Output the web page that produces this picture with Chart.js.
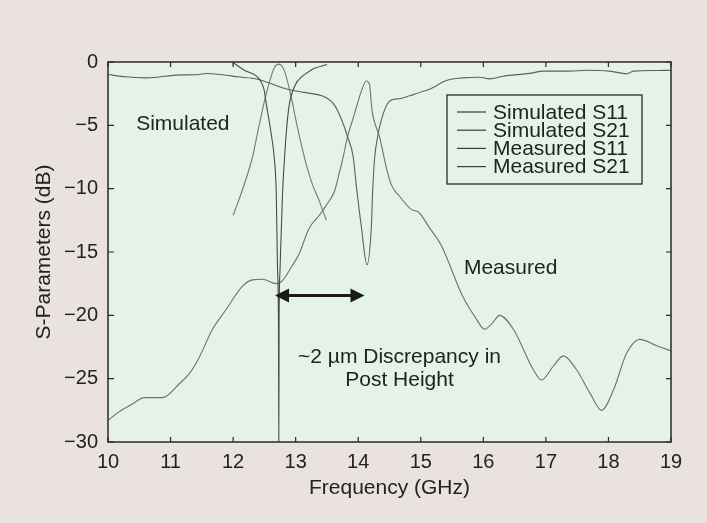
<!DOCTYPE html>
<html>
<head>
<meta charset="utf-8">
<script src="https://cdn.jsdelivr.net/npm/chart.js@4.4.0/dist/chart.umd.min.js"></script>
<style>
  html, body { margin: 0; padding: 0; background: #e9e2de; }
</style>
</head>
<body>
<canvas id="myChart" width="707" height="523"></canvas>
<script>
// frequency axis (GHz) and y ticks (dB)
const xTicks = [10, 11, 12, 13, 14, 15, 16, 17, 18, 19];
const yTicks = [0, -5, -10, -15, -20, -25, -30];

// simulated S11
const simS11Freq = [12.0, 12.18, 12.37, 12.45, 12.5, 12.53, 12.6, 12.66, 12.69, 12.71, 12.725, 12.73, 12.735, 12.75, 12.79, 12.82, 12.86, 12.9, 13.0, 13.1, 13.19, 13.3, 13.5];
const simS11 = [-0.05, -0.65, -1.1, -1.6, -2.3, -3.3, -5.4, -7.7, -10.4, -16.4, -20.5, -30, -20.5, -16.4, -10.4, -7.7, -5.0, -3.3, -1.75, -1.15, -0.83, -0.5, -0.2];

// simulated S21
const simS21Freq = [12.0, 12.12, 12.31, 12.42, 12.53, 12.66, 12.73, 12.82, 12.93, 13.03, 13.17, 13.27, 13.38, 13.49];
const simS21 = [-12.1, -10.5, -7.5, -4.9, -2.5, -0.44, -0.17, -0.7, -2.8, -5.2, -8.1, -9.7, -11.0, -12.5];

// measured S11
const measS11Freq = [10.0, 10.28, 10.6, 10.79, 11.08, 11.46, 11.56, 11.88, 12.07, 12.39, 12.87, 13.14, 13.46, 13.62, 13.73, 13.83, 13.92, 13.97, 14.05, 14.14, 14.21, 14.23, 14.26, 14.31, 14.42, 14.53, 14.66, 14.82, 14.98, 15.14, 15.41, 15.67, 15.94, 16.1, 16.31, 16.74, 16.96, 17.38, 17.65, 18.02, 18.29, 18.4, 18.77, 19.0];
const measS11 = [-0.99, -1.17, -1.25, -1.2, -1.04, -0.99, -0.91, -1.04, -1.17, -1.36, -2.15, -2.4, -2.75, -3.4, -4.5, -5.9, -7.5, -9.8, -13.0, -16.0, -13.0, -10.3, -7.7, -5.9, -3.8, -3.0, -2.9, -2.67, -2.4, -2.15, -1.46, -1.25, -1.2, -1.33, -1.12, -0.9, -0.72, -0.72, -0.65, -0.72, -0.93, -0.72, -0.67, -0.65];

// measured S21
const measS21Freq = [10.0, 10.18, 10.39, 10.58, 10.87, 11.14, 11.3, 11.46, 11.67, 11.88, 12.15, 12.31, 12.47, 12.69, 12.77, 12.93, 13.06, 13.19, 13.25, 13.38, 13.49, 13.62, 13.7, 13.75, 13.83, 13.94, 14.05, 14.13, 14.18, 14.22, 14.34, 14.45, 14.53, 14.66, 14.87, 14.95, 15.14, 15.33, 15.67, 15.89, 16.02, 16.13, 16.26, 16.48, 16.8, 16.93, 17.12, 17.28, 17.49, 17.7, 17.89, 18.08, 18.29, 18.5, 18.77, 19.0];
const measS21 = [-28.3, -27.6, -27.0, -26.5, -26.5, -25.4, -24.6, -23.3, -21.1, -19.6, -17.7, -17.2, -17.15, -17.5, -17.35, -16.2, -15.1, -13.4, -12.85, -12.1, -11.3, -10.2, -8.7, -7.7, -5.9, -4.1, -2.3, -1.5, -1.75, -3.8, -5.9, -8.35, -9.7, -10.6, -11.7, -11.8, -13.1, -14.5, -18.5, -20.3, -21.1, -20.7, -20.0, -21.1, -24.3, -25.1, -24.0, -23.2, -24.3, -26.1, -27.5, -25.9, -23.0, -21.9, -22.4, -22.8];

const toPts = (xs, ys) => xs.map((x, i) => ({ x: x, y: ys[i] }));

Chart.defaults.font.family = '"Liberation Sans", Arial, Helvetica, sans-serif';
Chart.defaults.color = '#222';

const canvas = document.querySelector('#myChart');

// 배경: 바깥쪽 + 플롯 영역
const bgPlugin = {
  id: 'bg',
  beforeDraw(chart) {
    const { ctx, chartArea: a } = chart;
    ctx.save();
    ctx.fillStyle = '#e9e2de';
    ctx.fillRect(0, 0, chart.width, chart.height);
    ctx.fillStyle = '#e4f2e7';
    ctx.fillRect(a.left, a.top, a.right - a.left, a.bottom - a.top);
    ctx.restore();
  }
};

// 테두리 + 안쪽 눈금
const framePlugin = {
  id: 'frame',
  afterDatasetsDraw(chart) {
    const { ctx, chartArea: a, scales } = chart;
    ctx.save();
    ctx.strokeStyle = '#2a2a2a';
    ctx.lineWidth = 1.5;
    ctx.strokeRect(a.left, a.top, a.right - a.left, a.bottom - a.top);
    ctx.lineWidth = 1.2;
    ctx.beginPath();
    scales.x.ticks.forEach(t => {
      const px = scales.x.getPixelForValue(t.value);
      ctx.moveTo(px, a.top); ctx.lineTo(px, a.top + 5);
      ctx.moveTo(px, a.bottom); ctx.lineTo(px, a.bottom - 5);
    });
    scales.y.ticks.forEach(t => {
      const py = scales.y.getPixelForValue(t.value);
      ctx.moveTo(a.left, py); ctx.lineTo(a.left + 6, py);
      ctx.moveTo(a.right, py); ctx.lineTo(a.right - 5, py);
    });
    ctx.stroke();
    ctx.restore();
  }
};

// 글자 주석 + 양방향 화살표
const notesPlugin = {
  id: 'notes',
  afterDatasetsDraw(chart) {
    const { ctx, scales: { x, y } } = chart;
    ctx.save();
    ctx.fillStyle = '#222';
    ctx.font = '21px "Liberation Sans", Arial, sans-serif';
    ctx.textBaseline = 'middle';
    ctx.textAlign = 'left';
    ctx.fillText('Simulated', x.getPixelForValue(10.45), y.getPixelForValue(-4.95));
    ctx.fillText('Measured', x.getPixelForValue(15.69), y.getPixelForValue(-16.27));
    ctx.textAlign = 'center';
    ctx.fillText('~2 \u00b5m Discrepancy in', x.getPixelForValue(14.66), y.getPixelForValue(-23.3));
    ctx.fillText('Post Height', x.getPixelForValue(14.66), y.getPixelForValue(-25.1));

    const x1 = x.getPixelForValue(12.67), x2 = x.getPixelForValue(14.1);
    const ay = y.getPixelForValue(-18.43);
    const hl = 14, hw = 7;
    ctx.strokeStyle = '#1a1a1a';
    ctx.fillStyle = '#1a1a1a';
    ctx.lineWidth = 3;
    ctx.beginPath();
    ctx.moveTo(x1 + hl - 2, ay); ctx.lineTo(x2 - hl + 2, ay);
    ctx.stroke();
    ctx.beginPath();
    ctx.moveTo(x1, ay); ctx.lineTo(x1 + hl, ay - hw); ctx.lineTo(x1 + hl, ay + hw); ctx.closePath();
    ctx.moveTo(x2, ay); ctx.lineTo(x2 - hl, ay - hw); ctx.lineTo(x2 - hl, ay + hw); ctx.closePath();
    ctx.fill();
    ctx.restore();
  }
};

// 범례 (박스 포함)
const legendBox = {
  id: 'legendBox',
  afterDraw(chart) {
    const { ctx, chartArea: a } = chart;
    const left = a.right - 224, top = a.top + 33, w = 195, h = 89;
    ctx.save();
    ctx.fillStyle = '#e4f2e7';
    ctx.fillRect(left, top, w, h);
    ctx.strokeStyle = '#2a2a2a';
    ctx.lineWidth = 1.3;
    ctx.strokeRect(left, top, w, h);
    ctx.font = '21px "Liberation Sans", Arial, sans-serif';
    ctx.textBaseline = 'middle';
    ctx.textAlign = 'left';
    chart.data.datasets.forEach((ds, i) => {
      const ry = top + 17 + i * 18.2;
      ctx.strokeStyle = '#3a3a3a';
      ctx.lineWidth = 1.2;
      ctx.beginPath();
      ctx.moveTo(left + 10, ry); ctx.lineTo(left + 39, ry);
      ctx.stroke();
      ctx.fillStyle = '#222';
      ctx.fillText(ds.label, left + 46, ry + 1);
    });
    ctx.restore();
  }
};

new Chart(canvas, {
  type: 'line',
  data: {
    datasets: [
      { label: 'Simulated S11', data: toPts(simS11Freq, simS11), borderColor: '#4a4a4a' },
      { label: 'Simulated S21', data: toPts(simS21Freq, simS21), borderColor: '#777777' },
      { label: 'Measured S11', data: toPts(measS11Freq, measS11), borderColor: '#5e5e5e' },
      { label: 'Measured S21', data: toPts(measS21Freq, measS21), borderColor: '#707070' }
    ]
  },
  options: {
    responsive: false,
    animation: false,
    elements: {
      line: { borderWidth: 1.1, cubicInterpolationMode: 'monotone', fill: false },
      point: { radius: 0 }
    },
    layout: { padding: { top: 62, right: 36, left: 0, bottom: 0 } },
    scales: {
      x: {
        type: 'linear',
        min: 10,
        max: 19,
        grid: { display: false, drawTicks: false },
        border: { display: false },
        afterBuildTicks: s => { s.ticks = xTicks.map(v => ({ value: v })); },
        afterFit: s => { s.height = 81; },
        ticks: { font: { size: 20 }, padding: 8, color: '#222', maxRotation: 0 },
        title: { display: true, text: 'Frequency (GHz)', font: { size: 21 }, color: '#222', padding: { top: 0, bottom: 22 } }
      },
      y: {
        type: 'linear',
        min: -30,
        max: 0,
        grid: { display: false, drawTicks: false },
        border: { display: false },
        afterBuildTicks: s => { s.ticks = yTicks.map(v => ({ value: v })); },
        afterFit: s => { s.width = 108; },
        ticks: {
          font: { size: 20 },
          padding: 10,
          color: '#222',
          callback: v => (v < 0 ? '\u2212' + Math.abs(v) : String(v))
        },
        title: { display: true, text: 'S-Parameters (dB)', font: { size: 21 }, color: '#222', padding: { top: 32, bottom: 0 } }
      }
    },
    plugins: {
      legend: { display: false },
      tooltip: { enabled: false }
    }
  },
  plugins: [bgPlugin, framePlugin, notesPlugin, legendBox]
});
</script>
</body>
</html>
